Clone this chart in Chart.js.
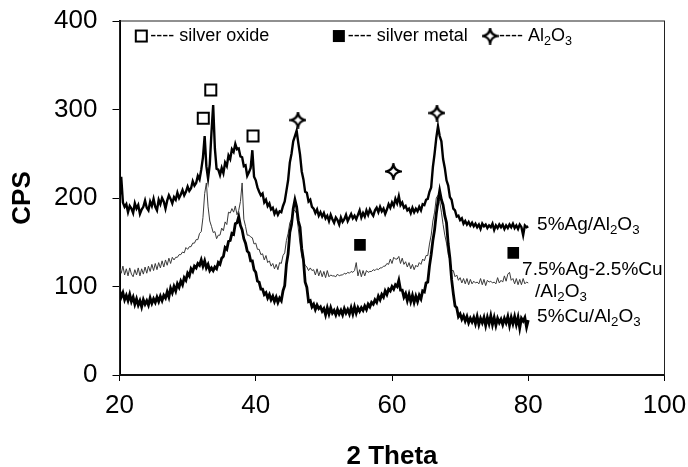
<!DOCTYPE html>
<html>
<head>
<meta charset="utf-8">
<script src="https://cdn.jsdelivr.net/npm/chart.js@4.4.1/dist/chart.umd.min.js"></script>
<style>
  html, body { margin: 0; padding: 0; background: #fff; }
</style>
</head>
<body>
<canvas id="xrd" width="688" height="467"></canvas>
<script>
// scan angles, 2 theta (0.25 deg step)
const twoTheta = [
  20,20.25,20.5,20.75,21,21.25,21.5,21.75, 22,22.25,22.5,22.75,23,23.25,23.5,23.75,
  24,24.25,24.5,24.75,25,25.25,25.5,25.75, 26,26.25,26.5,26.75,27,27.25,27.5,27.75,
  28,28.25,28.5,28.75,29,29.25,29.5,29.75, 30,30.25,30.5,30.75,31,31.25,31.5,31.75,
  32,32.25,32.5,32.75,33,33.25,33.5,33.75, 34,34.25,34.5,34.75,35,35.25,35.5,35.75,
  36,36.25,36.5,36.75,37,37.25,37.5,37.75, 38,38.25,38.5,38.75,39,39.25,39.5,39.75,
  40,40.25,40.5,40.75,41,41.25,41.5,41.75, 42,42.25,42.5,42.75,43,43.25,43.5,43.75,
  44,44.25,44.5,44.75,45,45.25,45.5,45.75, 46,46.25,46.5,46.75,47,47.25,47.5,47.75,
  48,48.25,48.5,48.75,49,49.25,49.5,49.75, 50,50.25,50.5,50.75,51,51.25,51.5,51.75,
  52,52.25,52.5,52.75,53,53.25,53.5,53.75, 54,54.25,54.5,54.75,55,55.25,55.5,55.75,
  56,56.25,56.5,56.75,57,57.25,57.5,57.75, 58,58.25,58.5,58.75,59,59.25,59.5,59.75,
  60,60.25,60.5,60.75,61,61.25,61.5,61.75, 62,62.25,62.5,62.75,63,63.25,63.5,63.75,
  64,64.25,64.5,64.75,65,65.25,65.5,65.75, 66,66.25,66.5,66.75,67,67.25,67.5,67.75,
  68,68.25,68.5,68.75,69,69.25,69.5,69.75, 70,70.25,70.5,70.75,71,71.25,71.5,71.75,
  72,72.25,72.5,72.75,73,73.25,73.5,73.75, 74,74.25,74.5,74.75,75,75.25,75.5,75.75,
  76,76.25,76.5,76.75,77,77.25,77.5,77.75, 78,78.25,78.5,78.75,79,79.25,79.5,79.75,
  80
];

// 5%Ag/Al2O3
const ag5 = [
  198,224,195,190,193,184,191,188, 183,194,188,192,182,187,190,197,
  189,186,196,191,199,190,186,198, 193,200,196,188,197,203,199,194,
  201,198,206,200,204,209,203,207, 213,208,211,219,214,217,225,221,
  232,246,270,236,222,238,274,305, 256,233,232,226,234,228,240,236,
  248,244,255,252,261,255,256,247, 246,236,237,225,229,234,254,224,
  220,212,207,203,205,195,198,191, 194,187,189,182,186,181,185,184,
  191,196,208,220,240,250,264,270, 276,262,249,230,221,207,206,196,
  198,190,188,183,187,180,184,179, 183,177,180,174,181,176,172,178,
  175,170,178,173,176,181,174,178, 182,177,180,176,181,186,178,183,
  179,186,181,187,183,180,186,189, 184,190,185,188,182,187,193,189,
  195,191,199,194,202,192,195,189, 191,186,188,183,189,184,188,185,
  190,186,193,192,198,199,207,212, 235,250,268,281,270,264,244,234,
  220,214,201,198,188,186,179,180, 175,177,171,174,170,173,169,172,
  168,171,167,170,165,171,168,170, 166,169,167,171,164,169,166,170,
  167,170,165,169,166,170,167,171, 166,169,165,170,167,158,169,167,
  168
];

// 7.5%Ag-2.5%Cu/Al2O3
const agcu = [
  122,115,123,113,120,112,121,114, 111,119,113,121,112,120,114,122,
  115,123,117,125,118,126,119,127, 121,129,122,130,124,132,126,133,
  130,133,133,136,136,139,138,144, 142,145,145,149,149,153,153,160,
  162,178,205,217,190,174,168,161, 162,154,158,158,166,163,173,170,
  184,183,188,184,191,181,186,196, 217,176,168,158,158,156,155,148,
  149,142,142,136,137,130,135,127, 129,123,126,120,125,119,127,126,
  135,138,152,160,172,176,186,186, 182,165,148,134,128,124,122,118,
  121,118,119,113,120,112,118,111, 117,110,118,111,113,112,112,111,
  114,112,113,113,115,114,116,115, 117,116,118,127,112,119,111,118,
  112,118,116,117,117,119,118,120, 119,121,121,123,123,126,125,131,
  126,133,131,131,134,126,132,125, 128,122,127,120,125,119,124,122,
  127,125,131,129,135,135,148,158, 174,184,200,203,196,184,170,158,
  149,136,130,118,118,111,113,107, 110,104,109,103,109,102,108,103,
  106,104,105,103,109,102,108,101, 107,105,106,104,105,103,110,104,
  107,105,112,106,114,116,107,109, 103,109,102,108,102,109,103,105,
  104
];

// 5%Cu/Al2O3
const cu5 = [
  96,88,93,85,90,84,91,83, 88,80,86,79,84,77,85,80,
  84,79,87,81,86,82,88,83, 89,84,90,87,94,88,98,93,
  100,95,103,99,106,102,110,107, 115,112,120,117,123,121,126,124,
  130,123,129,121,125,118,121,118, 122,120,127,125,132,134,144,142,
  151,152,160,159,171,172,179,169, 164,154,149,140,138,129,129,119,
  116,106,105,97,97,91,93,87, 91,85,89,83,88,82,87,84,
  95,101,125,137,161,170,188,198, 190,174,167,143,130,105,99,83,
  84,77,80,74,79,75,77,72, 75,68,76,69,76,70,73,68,
  74,69,73,68,75,70,74,69, 76,69,77,70,76,72,76,73,
  78,74,80,77,82,80,85,82, 89,85,91,88,95,91,97,95,
  100,97,102,100,107,96,96,88, 92,84,91,83,90,82,89,83,
  90,86,95,94,104,105,123,136, 152,164,182,196,208,198,192,180,
  172,148,132,108,92,78,76,66, 69,63,67,61,66,59,64,60,
  65,58,66,57,64,59,65,56, 65,58,67,57,65,56,64,59,
  63,57,64,59,66,56,65,58, 66,57,65,53,64,61,65,54,
  62
];

// peak markers [2 theta, CPS]
const oxidePeaks = [[32.3, 290], [33.4, 322], [39.6, 270]];
const metalPeaks = [[55.3, 147], [77.8, 138]];
const aluminaPeaks = [[46.2, 288], [60.2, 230], [66.6, 296]];

const xTicks = [20, 40, 60, 80, 100];
const yTicks = [0, 100, 200, 300, 400];

// curve names ('_' marks a subscript character)
const curveLabels = [
  { text: '5%Ag/Al_2O_3', at: [81.3, 169.5] },
  { text: '7.5%Ag-2.5%Cu', at: [79.1, 118.6] },
  { text: '/Al_2O_3', at: [81.0, 93.8] },
  { text: '5%Cu/Al_2O_3', at: [81.3, 65.5] }
];
const legendItems = [
  { marker: 'open', text: '---- silver oxide', at: [23.2, 383] },
  { marker: 'filled', text: '---- silver metal', at: [52.2, 383] },
  { marker: 'star', text: '---- Al_2O_3', at: [74.4, 383] }
];

const FONT = 'Liberation Sans, Arial, Helvetica, sans-serif';

function makeStar(size) {
  const c = document.createElement('canvas');
  c.width = c.height = size;
  const g = c.getContext('2d');
  const m = size / 2, r = size / 2 - 1, k = 0.9;
  g.beginPath();
  g.moveTo(m, m - r);
  g.quadraticCurveTo(m + k, m - k, m + r, m);
  g.quadraticCurveTo(m + k, m + k, m, m + r);
  g.quadraticCurveTo(m - k, m + k, m - r, m);
  g.quadraticCurveTo(m - k, m - k, m, m - r);
  g.closePath();
  g.fillStyle = '#fff';
  g.fill();
  g.lineWidth = 2.2;
  g.strokeStyle = '#000';
  g.stroke();
  return c;
}
const starImg = makeStar(17);

function richText(ctx, text, x, y, size) {
  let cx = x;
  for (let i = 0; i < text.length; i++) {
    let ch = text[i], sub = false;
    if (ch === '_') { sub = true; ch = text[++i]; }
    ctx.font = (sub ? size * 0.7 : size) + 'px ' + FONT;
    ctx.fillText(ch, cx, sub ? y + size * 0.3 : y);
    cx += ctx.measureText(ch).width;
  }
}

const pairs = arr => twoTheta.map((t, i) => ({ x: t, y: arr[i] }));
const pts = arr => arr.map(p => ({ x: p[0], y: p[1] }));

const annotations = {
  id: 'annotations',
  afterDraw(chart) {
    const { ctx, chartArea: a, scales: { x, y } } = chart;
    ctx.save();
    // frame
    ctx.strokeStyle = '#222';
    ctx.lineWidth = 1;
    ctx.strokeRect(a.left, a.top, a.right - a.left, a.bottom - a.top);
    ctx.fillStyle = '#000';
    ctx.textBaseline = 'middle';
    curveLabels.forEach(l => {
      richText(ctx, l.text, x.getPixelForValue(l.at[0]), y.getPixelForValue(l.at[1]), 19);
    });
    legendItems.forEach(l => {
      const px = x.getPixelForValue(l.at[0]), py = y.getPixelForValue(l.at[1]);
      if (l.marker === 'open') {
        ctx.fillStyle = '#fff';
        ctx.fillRect(px - 5.5, py - 5.5, 11, 11);
        ctx.lineWidth = 2;
        ctx.strokeStyle = '#000';
        ctx.strokeRect(px - 5.5, py - 5.5, 11, 11);
      } else if (l.marker === 'filled') {
        ctx.fillStyle = '#000';
        ctx.fillRect(px - 6, py - 6, 12, 12);
      } else {
        ctx.drawImage(starImg, px - 8.5, py - 8.5);
      }
      ctx.fillStyle = '#000';
      richText(ctx, l.text, px + 9, py, 18);
    });
    ctx.restore();
  }
};

new Chart(document.getElementById('xrd'), {
  type: 'line',
  data: {
    datasets: [
      { data: pts(oxidePeaks), showLine: false, pointStyle: 'rect', pointRadius: 7.8,
        pointBackgroundColor: '#fff', pointBorderColor: '#000', pointBorderWidth: 2 },
      { data: pts(metalPeaks), showLine: false, pointStyle: 'rect', pointRadius: 8.2,
        pointBackgroundColor: '#000', pointBorderColor: '#000', pointBorderWidth: 0 },
      { data: pts(aluminaPeaks), showLine: false, pointStyle: starImg, pointRadius: 8 },
      { data: pairs(ag5), borderColor: '#000', borderWidth: 2.4, pointRadius: 0 },
      { data: pairs(cu5), borderColor: '#000', borderWidth: 2.8, pointRadius: 0 },
      { data: pairs(agcu), borderColor: '#3a3a3a', borderWidth: 1, pointRadius: 0 }
    ]
  },
  options: {
    responsive: false,
    animation: false,
    layout: { padding: { top: 21, right: 23.5, bottom: 0, left: 0 } },
    plugins: { legend: { display: false }, tooltip: { enabled: false } },
    scales: {
      x: {
        type: 'linear', min: 20, max: 100,
        afterBuildTicks: s => { s.ticks = xTicks.map(v => ({ value: v })); },
        afterFit: s => { s.height = 92; s.paddingLeft = 0; s.paddingRight = 0; },
        grid: { drawOnChartArea: false, tickLength: 6, tickColor: '#000', tickWidth: 1 },
        border: { color: '#000', width: 2 },
        ticks: { color: '#000', padding: 9, maxRotation: 0, font: { family: FONT, size: 26 } },
        title: { display: true, text: '2 Theta', color: '#000', padding: { top: 0, bottom: 0 },
                 font: { family: FONT, size: 26, weight: 'bold', lineHeight: 0.8 } }
      },
      y: {
        min: 0, max: 400,
        afterBuildTicks: s => { s.ticks = yTicks.map(v => ({ value: v })); },
        afterFit: s => { s.width = 119.5; s.paddingTop = 0; s.paddingBottom = 0; },
        grid: { drawOnChartArea: false, tickLength: 7, tickColor: '#000', tickWidth: 1 },
        border: { color: '#000', width: 2 },
        ticks: { color: '#000', padding: 15, font: { family: FONT, size: 26 } },
        title: { display: true, text: 'CPS', color: '#000', padding: { top: 10, bottom: 0 },
                 font: { family: FONT, size: 26, weight: 'bold', lineHeight: 1 } }
      }
    }
  },
  plugins: [annotations]
});
</script>
</body>
</html>
